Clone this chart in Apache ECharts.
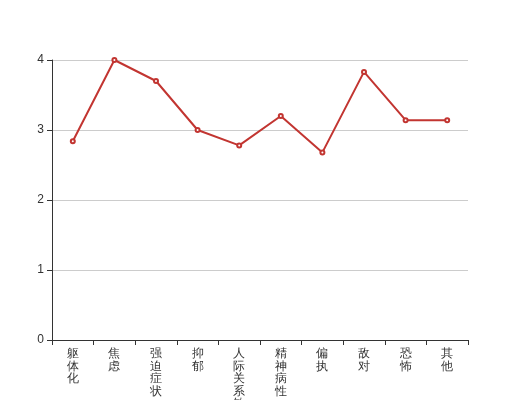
<!DOCTYPE html>
<html><head><meta charset="utf-8">
<script src="https://cdn.jsdelivr.net/npm/echarts@6/dist/echarts.min.js"></script>
<style>html,body{margin:0;padding:0;background:#fff}#c{width:520px;height:400px}</style>
</head><body><div id="c"></div>
<script>
const categories = ['躯体化','焦虑','强迫症状','抑郁','人际关系敏感','精神病性','偏执','敌对','恐怖','其他'];
const values = [2.84, 4.0, 3.7, 3.0, 2.78, 3.2, 2.68, 3.83, 3.14, 3.14];
const chart = echarts.init(document.getElementById('c'), null, {renderer:'canvas'});
chart.setOption({
  animation: false,
  grid: {left: 52, right: 52, top: 60, bottom: 60, containLabel: false, outerBoundsMode: 'none'},
  xAxis: {
    type: 'category', data: categories, boundaryGap: true,
    axisLine: {show: true, lineStyle: {color: '#333', width: 1}},
    axisTick: {show: true, lineStyle: {color: '#333'}},
    axisLabel: {color: '#333', fontSize: 11.5, interval: 0, lineHeight: 12.5, margin: 8,
      formatter: v => v.split('').join('\n')}
  },
  yAxis: {
    type: 'value', min: 0, max: 4, interval: 1,
    axisLine: {show: true, lineStyle: {color: '#333', width: 1}},
    axisTick: {show: true, lineStyle: {color: '#333'}},
    axisLabel: {color: '#333', fontSize: 12},
    splitLine: {show: true, lineStyle: {color: '#ccc', width: 1}}
  },
  series: [{
    type: 'line', data: values,
    symbol: 'emptyCircle', symbolSize: 4,
    lineStyle: {color: '#c23531', width: 2},
    itemStyle: {color: '#c23531'}
  }]
});
</script></body></html>
